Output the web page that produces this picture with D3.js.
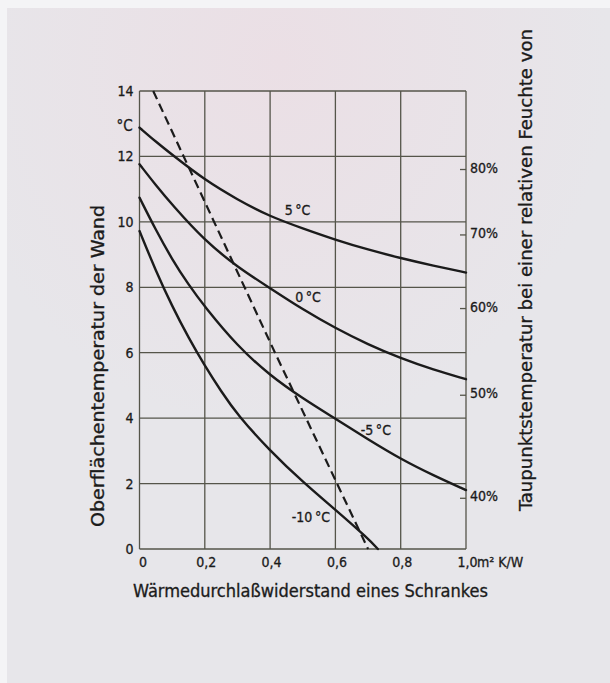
<!DOCTYPE html>
<html>
<head>
<meta charset="utf-8">
<script src="https://cdn.jsdelivr.net/npm/d3@7"></script>
<style>
  html, body { margin: 0; padding: 0; background: #f4f4f6; }
  svg { display: block; }
</style>
</head>
<body>
<div id="chart"></div>
<script>
// values
const xTicks = [0, 0.2, 0.4, 0.6, 0.8, 1.0];
const xTickLabels = ["0", "0,2", "0,4", "0,6", "0,8", "1,0"];
const yTicks = [0, 2, 4, 6, 8, 10, 12, 14];
const humidityLabels = ["80%", "70%", "60%", "50%", "40%"];
const dewPoints = [11.6, 9.6, 7.35, 4.7, 1.55];
const curveNames = ["5\u2009°C", "0\u2009°C", "-5\u2009°C", "-10\u2009°C"];

const curve5 = [[0, 12.88], [0.05, 12.45], [0.1, 12.05], [0.2, 11.28], [0.3, 10.68], [0.4, 10.16],
  [0.5, 9.8], [0.6, 9.45], [0.7, 9.15], [0.8, 8.89], [0.9, 8.66], [1.0, 8.45]];
const curve0 = [[0, 11.76], [0.05, 11.12], [0.1, 10.52], [0.2, 9.42], [0.3, 8.62], [0.4, 7.97],
  [0.5, 7.32], [0.6, 6.75], [0.7, 6.25], [0.8, 5.83], [0.9, 5.48], [1.0, 5.19]];
const curveM5 = [[0, 10.74], [0.05, 9.75], [0.1, 8.85], [0.15, 8.08], [0.2, 7.4], [0.3, 6.2],
  [0.4, 5.3], [0.5, 4.6], [0.6, 3.98], [0.7, 3.35], [0.8, 2.75], [0.9, 2.25], [1.0, 1.8]];
const curveM10 = [[0, 9.72], [0.05, 8.5], [0.1, 7.42], [0.15, 6.46], [0.2, 5.6], [0.25, 4.82],
  [0.3, 4.1], [0.4, 3.0], [0.5, 2.05], [0.6, 1.2], [0.7, 0.32], [0.73, 0]];
const dewLine = [[0.042, 14], [0.415, 6], [0.70, 0]];

const FONT = "'DejaVu Sans Condensed', 'Liberation Sans Narrow', 'DejaVu Sans', sans-serif";
const INK = "#1b1b1b";

class Chart {
  constructor(config) {
    this.config = config;
    this.svg = null;
    this.xScale = null;
    this.yScale = null;
    this.createSvg();
    this.createScales();
  }

  createSvg() {
    this.svg = d3.select(this.config.div)
      .append("svg")
      .attr("width", 610)
      .attr("height", 683);

    const defs = this.svg.append("defs");
    const g = defs.append("radialGradient").attr("id", "tint")
      .attr("cx", "0.45").attr("cy", "0.08").attr("r", "0.55");
    g.append("stop").attr("offset", "0%").attr("stop-color", "#ebdfe5");
    g.append("stop").attr("offset", "100%").attr("stop-color", "#e7e6ea");

    this.svg.append("rect").attr("width", 610).attr("height", 683).attr("fill", "#f4f4f6");
    this.svg.append("rect").attr("x", 7).attr("y", 8).attr("width", 603).attr("height", 675)
      .attr("fill", "url(#tint)");
  }

  createScales() {
    const c = this.config;
    this.xScale = d3.scaleLinear().domain([0, 1]).range([c.left, c.left + c.width]);
    this.yScale = d3.scaleLinear().domain([0, 14]).range([c.top + c.height, c.top]);
  }

  label(sel, size) {
    return sel.attr("font-family", FONT).attr("font-size", size)
      .attr("fill", INK).attr("stroke", INK).attr("stroke-width", 0.3);
  }

  createAxis() {
    const c = this.config;
    const x = this.xScale, y = this.yScale;

    // grid
    const grid = this.svg.append("g").attr("stroke", "#55554a").attr("stroke-width", 1.3);
    grid.selectAll("line.v").data(xTicks).join("line")
      .attr("x1", d => x(d)).attr("x2", d => x(d))
      .attr("y1", c.top).attr("y2", c.top + c.height);
    grid.selectAll("line.h").data(yTicks).join("line")
      .attr("x1", c.left).attr("x2", c.left + c.width)
      .attr("y1", d => y(d)).attr("y2", d => y(d));

    // left tick labels
    this.label(this.svg.append("g").selectAll("text").data(yTicks).join("text"), 14)
      .attr("x", c.left - 6).attr("y", d => y(d) + 1)
      .attr("text-anchor", "end").attr("dominant-baseline", "middle")
      .text(d => d);

    this.label(this.svg.append("text"), 15)
      .attr("x", c.left - 15).attr("y", y(12.9))
      .attr("text-anchor", "middle").attr("dominant-baseline", "middle")
      .text("°C");

    // bottom tick labels
    this.label(this.svg.append("g").selectAll("text").data(xTicks).join("text"), 14)
      .attr("x", (d, i) => x(d) + (i === 0 ? 3.5 : 1.5)).attr("y", c.top + c.height + 14)
      .attr("text-anchor", "middle").attr("dominant-baseline", "middle")
      .text((d, i) => xTickLabels[i]);

    this.label(this.svg.append("text"), 14)
      .attr("x", x(1) + 11).attr("y", c.top + c.height + 14)
      .attr("dominant-baseline", "middle")
      .text("m² K/W");

    // right humidity scale
    const right = this.svg.append("g");
    right.selectAll("line").data(dewPoints).join("line")
      .attr("x1", x(1) - 6).attr("x2", x(1))
      .attr("y1", d => y(d)).attr("y2", d => y(d))
      .attr("stroke", "#55554a").attr("stroke-width", 1.3);
    this.label(right.selectAll("text").data(dewPoints).join("text"), 14)
      .attr("x", x(1) + 4).attr("y", d => y(d) - 1)
      .attr("dominant-baseline", "middle")
      .text((d, i) => humidityLabels[i]);

    // axis titles
    this.label(this.svg.append("text"), 17)
      .attr("x", 133).attr("y", 597)
      .attr("textLength", 355).attr("lengthAdjust", "spacingAndGlyphs")
      .text("Wärmedurchlaßwiderstand eines Schrankes");

    this.label(this.svg.append("text"), 17)
      .attr("transform", "translate(104,366) rotate(-90)")
      .attr("text-anchor", "middle")
      .attr("textLength", 322).attr("lengthAdjust", "spacingAndGlyphs")
      .text("Oberflächentemperatur der Wand");

    this.label(this.svg.append("text"), 17)
      .attr("transform", "translate(532,270) rotate(-90)")
      .attr("text-anchor", "middle")
      .attr("textLength", 482).attr("lengthAdjust", "spacingAndGlyphs")
      .text("Taupunktstemperatur bei einer relativen Feuchte von");
  }

  render() {
    const x = this.xScale, y = this.yScale;
    const line = d3.line().x(d => x(d[0])).y(d => y(d[1])).curve(d3.curveBasis);

    const curves = [curve5, curve0, curveM5, curveM10];
    this.svg.append("g").selectAll("path").data(curves).join("path")
      .attr("d", line)
      .attr("fill", "none").attr("stroke", INK).attr("stroke-width", 2.4)
      .attr("stroke-linecap", "round");

    this.svg.append("path")
      .attr("d", d3.line().x(d => x(d[0])).y(d => y(d[1]))(dewLine))
      .attr("fill", "none").attr("stroke", INK).attr("stroke-width", 2.2)
      .attr("stroke-dasharray", "9,5");

    // curve labels, placed in data units
    const labelAt = [[0.484, 10.33], [0.516, 7.67], [0.724, 3.61], [0.525, 0.95]];
    this.label(this.svg.append("g").selectAll("text").data(curveNames).join("text"), 14)
      .attr("x", (d, i) => x(labelAt[i][0])).attr("y", (d, i) => y(labelAt[i][1]))
      .attr("text-anchor", "middle").attr("dominant-baseline", "middle")
      .text(d => d);
  }
}

function main() {
  const c = { div: "#chart", left: 139.5, top: 91, width: 326.5, height: 458 };
  const app = new Chart(c);
  app.createAxis();
  app.render();
}

main();
</script>
</body>
</html>
